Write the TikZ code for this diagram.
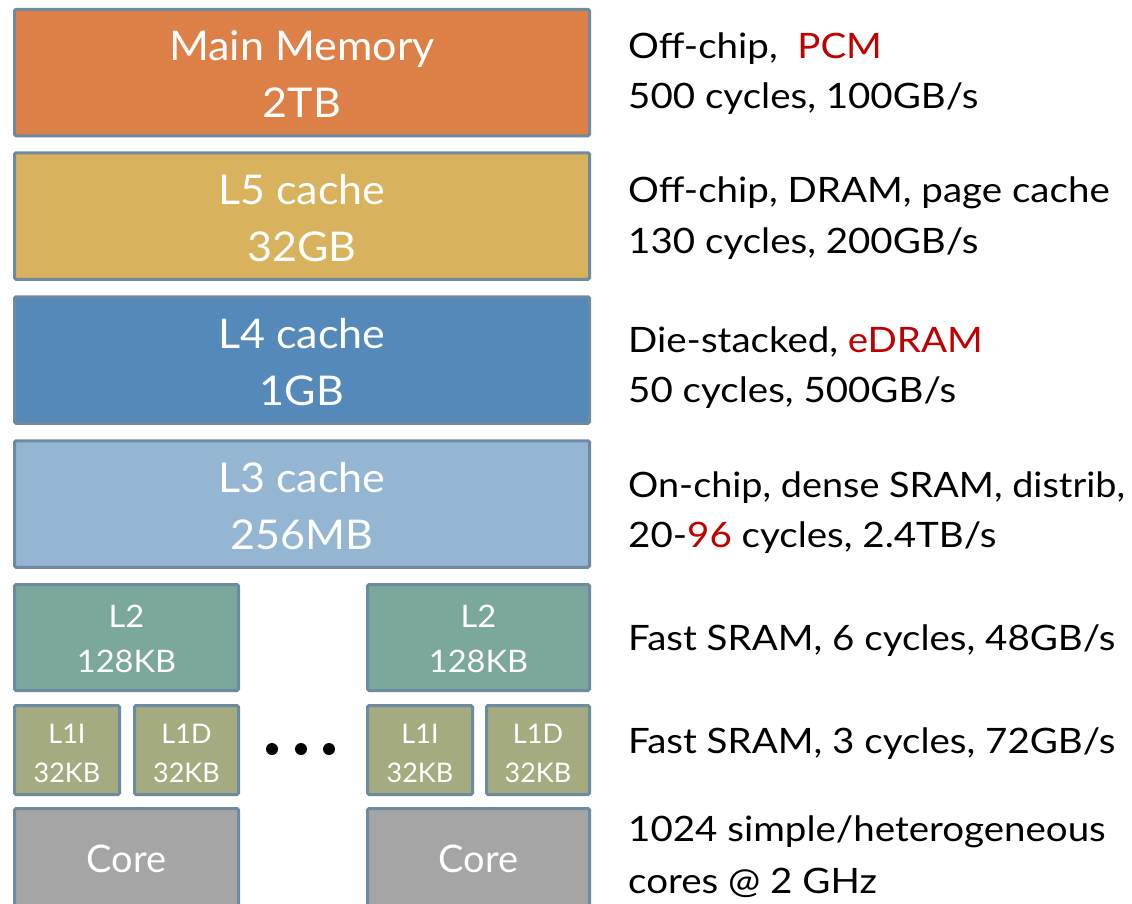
\documentclass[tikz,border=0pt]{standalone}
\usepackage{fontspec}
\setmainfont{Lato}
\newfontfamily\infofont[FakeStretch=1.10]{Lato}
\newfontfamily\infofontn[FakeStretch=1.08]{Lato}
\newfontfamily\boxfont[FakeStretch=1.05]{Lato}
\usetikzlibrary{calc}
\definecolor{memorange}{HTML}{DD8047}
\definecolor{memyellow}{HTML}{D8B25C}
\definecolor{memblue}{HTML}{5589B9}
\definecolor{memlight}{HTML}{94B6D2}
\definecolor{memteal}{HTML}{7BA79D}
\definecolor{memolive}{HTML}{A5AB81}
\definecolor{memgray}{HTML}{A5A5A5}
\definecolor{memborder}{HTML}{6E8AA0}
\definecolor{memred}{HTML}{C00000}
\tikzset{
  box/.style={draw=memborder, line width=3pt, rounded corners=1.5pt, inner sep=0pt, outer sep=0pt},
  bigbox/.style={box, minimum width=575, minimum height=126.5},
  lab/.style={text=white, inner sep=0pt, anchor=base},
  biglab/.style={lab, font=\boxfont\fontsize{41}{45}\selectfont},
  l2lab/.style={lab, font=\boxfont\fontsize{31}{35}\selectfont},
  l1lab/.style={lab, font=\fontsize{27}{31}\selectfont},
  corelab/.style={lab, font=\fontsize{38}{42}\selectfont},
  info/.style={text=black, inner sep=0pt, anchor=base west, font=\infofont\fontsize{35}{40}\selectfont},
  infonarrow/.style={info, font=\infofontn\fontsize{35}{40}\selectfont},
  dotmark/.style={circle, fill=black, inner sep=0pt, minimum size=12},
}
\begin{document}
\begin{tikzpicture}[x=1pt, y=-1pt]
\useasboundingbox (0,0) rectangle (1132,903);
\clip (0,0) rectangle (1132,903);
% big boxes
\node[bigbox, fill=memorange] (mm) at (302,72.5) {};
\node[bigbox, fill=memyellow] (l5) at (302,216) {};
\node[bigbox, fill=memblue]   (l4) at (302,360) {};
\node[bigbox, fill=memlight]  (l3) at (302,504) {};
\node[biglab] (mmA) at ($(mm.center)+(0,-12)$) {Main Memory};
\node[biglab] (mmB) at ($(mm.center)+(0,45)$) {2TB};
\node[biglab] (l5A) at ($(l5.center)+(0,-12)$) {L5 cache};
\node[biglab] (l5B) at ($(l5.center)+(0,45)$) {32GB};
\node[biglab] (l4A) at ($(l4.center)+(0,-12)$) {L4 cache};
\node[biglab] (l4B) at ($(l4.center)+(0,45)$) {1GB};
\node[biglab] (l3A) at ($(l3.center)+(0,-12)$) {L3 cache};
\node[biglab] (l3B) at ($(l3.center)+(0,45)$) {256MB};
% L2
\node[box, fill=memteal, minimum width=224, minimum height=106] (l2a) at (126.5,637.5) {};
\node[box, fill=memteal, minimum width=222, minimum height=106] (l2b) at (478.5,637.5) {};
\foreach \n in {l2a,l2b}{
  \node[l2lab] (\n A) at ($(\n.center)+(0,-10)$) {L2};
  \node[l2lab] (\n B) at ($(\n.center)+(0,35)$) {128KB};
}
% L1
\node[box, fill=memolive, minimum width=105, minimum height=89] (l1ia) at (67,750) {};
\node[box, fill=memolive, minimum width=104, minimum height=89] (l1da) at (186.5,750) {};
\node[box, fill=memolive, minimum width=105, minimum height=89] (l1ib) at (420,750) {};
\node[box, fill=memolive, minimum width=103, minimum height=89] (l1db) at (538,750) {};
\foreach \n/\t in {l1ia/L1I,l1da/L1D,l1ib/L1I,l1db/L1D}{
  \node[l1lab] (\n A) at ($(\n.center)+(0,-7)$) {\t};
  \node[l1lab] (\n B) at ($(\n.center)+(0,32)$) {32KB};
}
% dots
\node[dotmark] (d1) at (272,749) {};
\node[dotmark] (d2) at (301,749) {};
\node[dotmark] (d3) at (329,749) {};
% cores
\node[box, fill=memgray, minimum width=224, minimum height=110] (ca) at (126.5,863.5) {};
\node[box, fill=memgray, minimum width=222, minimum height=110] (cb) at (478.5,863.5) {};
\node[corelab] (caL) at (126.5,872) {Core};
\node[corelab] (cbL) at (478.5,872) {Core};
% info text
\node[info] (i1a) at (628,58) {Off-chip,\ \ \textcolor{memred}{PCM}};
\node[info] (i1b) at (628,108) {500 cycles, 100GB/s};
\node[info] (i2a) at (628,202) {Off-chip, DRAM, page cache};
\node[info] (i2b) at (628,253) {130 cycles, 200GB/s};
\node[info] (i3a) at (628,352) {Die-stacked, \textcolor{memred}{eDRAM}};
\node[info] (i3b) at (628,402) {50 cycles, 500GB/s};
\node[infonarrow] (i4a) at (628,497) {On-chip, dense SRAM, distrib,};
\node[info] (i4b) at (628,547) {20-\textcolor{memred}{96} cycles, 2.4TB/s};
\node[info] (i5) at (628,650) {Fast SRAM, 6 cycles, 48GB/s};
\node[info] (i6) at (628,753) {Fast SRAM, 3 cycles, 72GB/s};
\node[info] (i7a) at (628,841) {1024 simple/heterogeneous};
\node[info] (i7b) at (628,893) {cores @ 2 GHz};
\end{tikzpicture}
\end{document}
